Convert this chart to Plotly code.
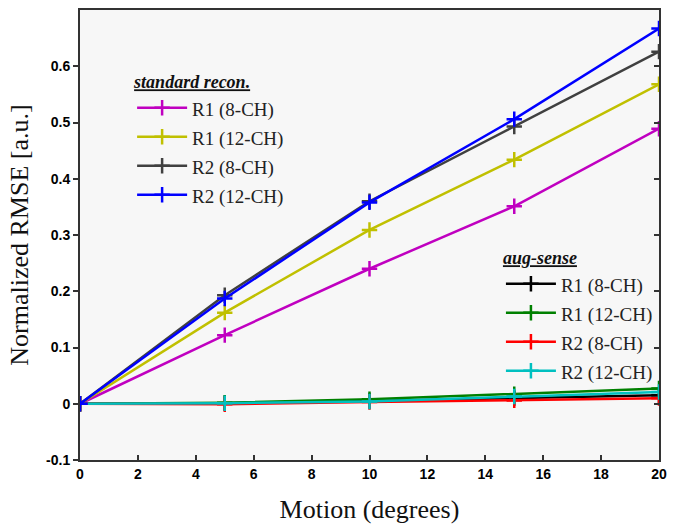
import plotly.graph_objects as go

motion = [0, 5, 10, 15, 20]

std_names = ["R1 (8-CH)", "R1 (12-CH)", "R2 (8-CH)", "R2 (12-CH)"]
std_colors = ["#c000c0", "#c0c000", "#404040", "#0000ff"]
std_r1_8 = [0, 0.122, 0.240, 0.351, 0.489]
std_r1_12 = [0, 0.162, 0.309, 0.434, 0.568]
std_r2_8 = [0, 0.193, 0.360, 0.493, 0.626]
std_r2_12 = [0, 0.187, 0.358, 0.506, 0.667]

aug_names = ["R1 (8-CH)", "R1 (12-CH)", "R2 (8-CH)", "R2 (12-CH)"]
aug_colors = ["#000000", "#008000", "#ff0000", "#00c0c0"]
aug_r1_8 = [0, 0.001, 0.005, 0.010, 0.015]
aug_r1_12 = [0, 0.002, 0.008, 0.017, 0.027]
aug_r2_8 = [0, -0.001, 0.003, 0.006, 0.010]
aug_r2_12 = [0, 0.001, 0.004, 0.013, 0.021]

x_ticks = list(range(0, 21, 2))
y_ticks = [-0.1, 0, 0.1, 0.2, 0.3, 0.4, 0.5, 0.6]
y_tick_labels = ["-0.1", "0", "0.1", "0.2", "0.3", "0.4", "0.5", "0.6"]

SERIF = "Times New Roman"
SANS = "Arial"


def label(name):
    return '<span style="font-size:19px">' + name + '</span>'


fig = go.Figure()

for name, color, ys in zip(aug_names, aug_colors, [aug_r1_8, aug_r1_12, aug_r2_8, aug_r2_12]):
    fig.add_trace(go.Scatter(
        x=motion, y=ys, name=label(name), mode="lines+markers", legend="legend2",
        line=dict(color=color, width=2.5),
        marker=dict(symbol="cross-thin", size=11, line=dict(color=color, width=2.5)),
    ))

for name, color, ys in zip(std_names, std_colors, [std_r1_8, std_r1_12, std_r2_8, std_r2_12]):
    fig.add_trace(go.Scatter(
        x=motion, y=ys, name=label(name), mode="lines+markers", legend="legend",
        line=dict(color=color, width=2.5),
        marker=dict(symbol="cross-thin", size=11, line=dict(color=color, width=2.5)),
    ))

# invisible trace to get inside ticks on the right side
fig.add_trace(go.Scatter(x=[None], y=[None], yaxis="y2", showlegend=False))

legend_font = dict(family=SERIF, size=20, color="#222")
title_font = dict(family=SERIF, size=18, color="#111")

fig.update_layout(
    width=675, height=527,
    margin=dict(l=80, r=8, t=8, b=66),
    paper_bgcolor="white",
    plot_bgcolor="#f7f7f7",
    font=dict(family=SERIF),
    showlegend=True,
    legend=dict(
        x=0.09, y=0.878, xanchor="left", yanchor="top", itemwidth=50,
        bgcolor="rgba(0,0,0,0)", font=legend_font, traceorder="normal",
        title=dict(text="<b><i><u>standard recon.</u></i></b>", side="top", font=title_font),
    ),
    legend2=dict(
        x=0.727, y=0.487, xanchor="left", yanchor="top", itemwidth=50,
        bgcolor="rgba(0,0,0,0)", font=legend_font, traceorder="normal",
        title=dict(text="<b><i><u>aug-sense</u></i></b>", side="top", font=title_font),
    ),
    xaxis=dict(
        range=[0, 20], tickvals=x_ticks, ticks="inside", ticklen=5, tickwidth=1.5,
        tickcolor="#333", showgrid=False, zeroline=False,
        showline=True, linecolor="#333", linewidth=2, mirror=True,
        tickfont=dict(family=SANS, size=14, color="black", weight="bold"),
        title=dict(text="Motion (degrees)", standoff=19,
                   font=dict(family=SERIF, size=26, color="#111")),
    ),
    yaxis=dict(
        range=[-0.1, 0.7], tickvals=y_ticks, ticktext=y_tick_labels,
        ticks="outside", ticklen=5, tickwidth=1.5, tickcolor="#333",
        showgrid=False, zeroline=False,
        showline=True, linecolor="#333", linewidth=2, mirror=True,
        tickfont=dict(family=SANS, size=14, color="black", weight="bold"),
        title=dict(text="Normalized RMSE [a.u.]", standoff=10,
                   font=dict(family=SERIF, size=26, color="#111")),
    ),
    yaxis2=dict(
        overlaying="y", side="right", range=[-0.1, 0.7], tickvals=y_ticks,
        ticks="inside", ticklen=5, tickwidth=1.5, tickcolor="#333",
        showticklabels=False, showgrid=False, zeroline=False, showline=False,
    ),
)

fig.write_html("out.html")
